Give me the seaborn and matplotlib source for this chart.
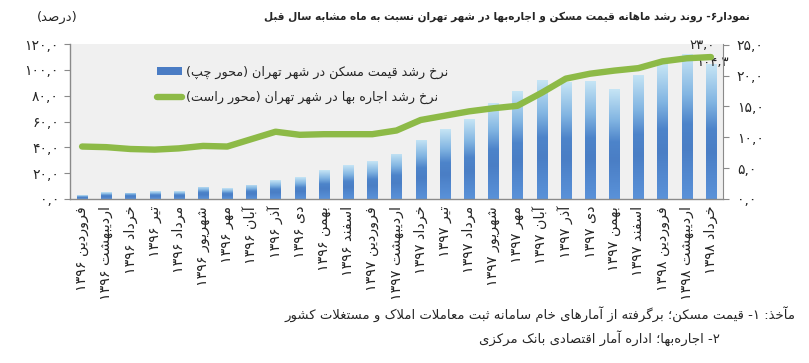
import re
import numpy as np
import pandas as pd
import matplotlib
matplotlib.use("Agg")
import matplotlib.pyplot as plt
import seaborn as sns
from matplotlib import font_manager
from matplotlib.colors import LinearSegmentedColormap
from matplotlib.patches import Patch
from matplotlib.lines import Line2D

# ---------------- data ----------------
months = ["فروردین ۱۳۹۶", "اردیبهشت ۱۳۹۶", "خرداد ۱۳۹۶", "تیر ۱۳۹۶", "مرداد ۱۳۹۶",
          "شهریور ۱۳۹۶", "مهر ۱۳۹۶", "آبان ۱۳۹۶", "آذر ۱۳۹۶", "دی ۱۳۹۶", "بهمن ۱۳۹۶",
          "اسفند ۱۳۹۶", "فروردین ۱۳۹۷", "اردیبهشت ۱۳۹۷", "خرداد ۱۳۹۷", "تیر ۱۳۹۷",
          "مرداد ۱۳۹۷", "شهریور ۱۳۹۷", "مهر ۱۳۹۷", "آبان ۱۳۹۷", "آذر ۱۳۹۷", "دی ۱۳۹۷",
          "بهمن ۱۳۹۷", "اسفند ۱۳۹۷", "فروردین ۱۳۹۸", "اردیبهشت ۱۳۹۸", "خرداد ۱۳۹۸"]
house_price = [3.0, 5.2, 4.7, 6.0, 6.0, 9.3, 8.5, 11.1, 14.7, 16.8, 22.2, 26.1, 29.2,
               34.9, 46.0, 54.0, 61.8, 74.2, 83.5, 91.8, 90.2, 91.2, 84.8, 96.1, 104.4,
               111.9, 104.3]
rent = [8.5, 8.4, 8.1, 8.0, 8.2, 8.6, 8.5, 9.7, 10.9, 10.4, 10.5, 10.5, 10.5, 11.1,
        12.8, 13.5, 14.2, 14.7, 15.1, 17.2, 19.5, 20.3, 20.8, 21.2, 22.3, 22.8, 23.0]
left_ticks = [0, 20, 40, 60, 80, 100, 120]
left_labels = ["۰,۰", "۲۰,۰", "۴۰,۰", "۶۰,۰", "۸۰,۰", "۱۰۰,۰", "۱۲۰,۰"]
right_ticks = [0, 5, 10, 15, 20, 25]
right_labels = ["۰,۰", "۵,۰", "۱۰,۰", "۱۵,۰", "۲۰,۰", "۲۵,۰"]
house_last_label = "۱۰۴,۳"
rent_last_label = "۲۳,۰"
title = "نمودار۶- روند رشد ماهانه قیمت مسکن و اجاره\u200cبها در شهر تهران نسبت به ماه مشابه سال قبل"
unit = "(درصد)"
legend_house = "نرخ رشد قیمت مسکن در شهر تهران (محور چپ)"
legend_rent = "نرخ رشد اجاره بها در شهر تهران (محور راست)"
source1 = "مآخذ: ۱- قیمت مسکن؛ برگرفته از آمارهای خام سامانه ثبت معاملات املاک و مستغلات کشور"
source2 = "۲- اجاره\u200cبها؛ اداره آمار اقتصادی بانک مرکزی"

# ---------------- Persian shaping (presentation forms + simple bidi) ----------------
def _f4(b):
    return (chr(b), chr(b + 1), chr(b + 2), chr(b + 3))

def _f2(b):
    return (chr(b), chr(b + 1), None, None)

FORMS = {
    "\u0621": ("\uFE80", None, None, None),
    "\u0622": _f2(0xFE81), "\u0623": _f2(0xFE83), "\u0627": _f2(0xFE8D),
    "\u0628": _f4(0xFE8F), "\u067E": _f4(0xFB56), "\u062A": _f4(0xFE95),
    "\u062B": _f4(0xFE99), "\u062C": _f4(0xFE9D), "\u0686": _f4(0xFB7A),
    "\u062D": _f4(0xFEA1), "\u062E": _f4(0xFEA5), "\u062F": _f2(0xFEA9),
    "\u0630": _f2(0xFEAB), "\u0631": _f2(0xFEAD), "\u0632": _f2(0xFEAF),
    "\u0698": _f2(0xFB8A), "\u0633": _f4(0xFEB1), "\u0634": _f4(0xFEB5),
    "\u0635": _f4(0xFEB9), "\u0636": _f4(0xFEBD), "\u0637": _f4(0xFEC1),
    "\u0638": _f4(0xFEC5), "\u0639": _f4(0xFEC9), "\u063A": _f4(0xFECD),
    "\u0641": _f4(0xFED1), "\u0642": _f4(0xFED5), "\u06A9": _f4(0xFB8E),
    "\u06AF": _f4(0xFB92), "\u0644": _f4(0xFEDD), "\u0645": _f4(0xFEE1),
    "\u0646": _f4(0xFEE5), "\u0648": _f2(0xFEED), "\u0647": _f4(0xFEE9),
    "\u06CC": _f4(0xFBFC), "\u0626": _f4(0xFE89),
}
LAM_ALEF = {"\u0627": ("\uFEFB", "\uFEFC"), "\u0622": ("\uFEF5", "\uFEF6")}


def _joins_next(c):
    return c in FORMS and FORMS[c][2] is not None


def shape(s):
    out = []
    i = 0
    n = len(s)
    while i < n:
        c = s[i]
        prev = s[i - 1] if i > 0 else None
        jp = prev is not None and _joins_next(prev)
        if c == "\u0644" and i + 1 < n and s[i + 1] in LAM_ALEF:
            out.append(LAM_ALEF[s[i + 1]][1 if jp else 0])
            i += 2
            continue
        if c not in FORMS:
            if c != "\u200c":
                out.append(c)
            i += 1
            continue
        nxt = s[i + 1] if i + 1 < n else None
        jn = _joins_next(c) and nxt is not None and nxt in FORMS
        f = FORMS[c]
        if jp and jn:
            g = f[3]
        elif jp and f[1] is not None:
            g = f[1]
        elif jn:
            g = f[2]
        else:
            g = f[0]
        out.append(g)
        i += 1
    return "".join(out)


_NUM = re.compile(r"([0-9\u06F0-\u06F9]+(?:[.,\u066B][0-9\u06F0-\u06F9]+)*)")
_MIRROR = str.maketrans({"(": ")", ")": "("})


def fa(s):
    sh = shape(s)
    parts = _NUM.split(sh)
    res = []
    for k, p in enumerate(parts):
        if k % 2 == 1:
            res.append(p)
        else:
            res.append(p[::-1].translate(_MIRROR))
    return "".join(reversed(res))


# ---------------- figure ----------------
sns.set_style("white")
plt.rcParams["font.family"] = ["DejaVu Sans"]

_names = {f.name for f in font_manager.fontManager.ttflist}
title_family = "DejaVu Sans Condensed" if "DejaVu Sans Condensed" in _names else "DejaVu Sans"
title_size = 8.4 if title_family == "DejaVu Sans Condensed" else 7.6

fig = plt.figure(figsize=(8.09, 3.63), dpi=100)
ax = fig.add_axes([70 / 809, 1 - 199 / 363, 653 / 809, 155 / 363])
ax.set_facecolor("#f0f0f0")

labels = [fa(m) for m in months]
df = pd.DataFrame({"month": labels, "house": house_price, "rent": rent})

sns.barplot(data=df, x="month", y="house", ax=ax, color="#4a7cc4", width=0.42,
            saturation=1, zorder=2)

cmap = LinearSegmentedColormap.from_list(
    "bar", [(0, "#5a92d9"), (0.35, "#4a7ec5"), (0.52, "#4d84ca"), (0.72, "#82b5e2"),
            (1, "#c6e5f5")])
grad = np.linspace(0, 1, 256).reshape(-1, 1)
for p in list(ax.patches):
    x0, y0, w, h = p.get_x(), p.get_y(), p.get_width(), p.get_height()
    im = ax.imshow(grad, extent=[x0, x0 + w, y0, y0 + h], origin="lower", cmap=cmap,
                   aspect="auto", zorder=2, interpolation="bilinear")
    im.set_clip_path(p)
    p.set_facecolor("none")
    p.set_edgecolor("none")

ax.set_xlim(-0.5, len(months) - 0.5)
ax.set_ylim(0, 120)
ax.set_xlabel("")
ax.set_ylabel("")
ax.set_yticks(left_ticks)
ax.set_yticklabels(left_labels, fontsize=10)
ax.set_xticks(range(len(months)))
ax.set_xticklabels(labels, rotation=90, fontsize=10.3, va="top", ha="center")
ax.set_xticks(np.arange(-0.5, len(months), 1.0), minor=True)
ax.tick_params(axis="x", which="major", length=0, pad=5)
ax.tick_params(axis="x", which="minor", length=6, color="#8a8a8a", direction="out")
ax.tick_params(axis="y", length=4, color="#8a8a8a", direction="out", pad=4, left=True)
for s in ["top", "right"]:
    ax.spines[s].set_visible(False)
for s in ["left", "bottom"]:
    ax.spines[s].set_color("#8a8a8a")
    ax.spines[s].set_linewidth(1)

ax2 = ax.twinx()
xs = np.arange(len(months))
sns.lineplot(x=xs, y=rent, ax=ax2, color="#8dba47", linewidth=4.6,
             solid_capstyle="round", zorder=3)
ax2.set_ylim(0, 25 * 155 / (199 - 44.7))
ax2.set_yticks(right_ticks)
ax2.set_yticklabels(right_labels, fontsize=10)
ax2.tick_params(axis="y", length=4, color="#8a8a8a", direction="out", pad=6, right=True)
ax2.set_ylabel("")
for s in ["top", "left", "bottom"]:
    ax2.spines[s].set_visible(False)
ax2.spines["right"].set_color("#8a8a8a")
ax.set_xlim(-0.5, len(months) - 0.5)

# data labels for the last points
ax2.annotate(fa(rent_last_label), xy=(xs[-1], rent[-1]), xytext=(-6, 3.5),
             textcoords="offset points", ha="center", va="bottom", fontsize=9.5)
ax.annotate(fa(house_last_label), xy=(xs[-1], house_price[-1]), xytext=(1, 1.5),
            textcoords="offset points", ha="center", va="center", fontsize=9.5)

handles = [Patch(facecolor="#4a7cc4", edgecolor="none"),
           Line2D([0], [0], color="#8dba47", linewidth=4.6)]
ax2.legend(handles, [fa(legend_house), fa(legend_rent)], loc="upper left",
           bbox_to_anchor=(0.115, 0.935), frameon=False, fontsize=9.2,
           handlelength=2.0, handleheight=0.6, labelspacing=0.95, handletextpad=0.3)

fig.text(750 / 809, 1 - 17 / 363, fa(title), ha="right", va="center",
         fontsize=title_size, fontweight="bold", family=title_family)
fig.text(57 / 809, 1 - 17 / 363, fa(unit), ha="center", va="center", fontsize=9.5)
fig.text(795 / 809, 1 - 314 / 363, fa(source1), ha="right", va="center", fontsize=9.5)
fig.text(720 / 809, 1 - 338 / 363, fa(source2), ha="right", va="center", fontsize=9.5)

fig.savefig("out.png", dpi=100)
